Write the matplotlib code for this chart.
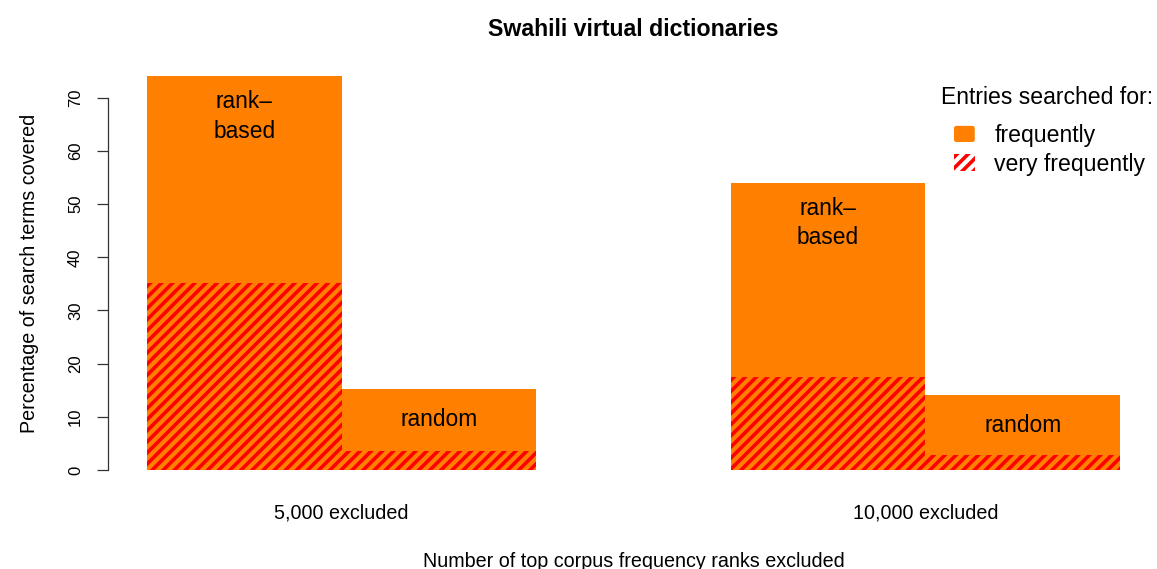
import numpy as np
import matplotlib.pyplot as plt
from matplotlib.patches import Patch, FancyBboxPatch
from matplotlib.legend_handler import HandlerPatch

# 数据
groups = ['5,000 excluded', '10,000 excluded']
methods = ['rank–\nbased', 'random']
frequent = [[74.1, 15.2], [54.0, 14.1]]        # 经常查询的词条
very_frequent = [[35.1, 3.6], [17.5, 2.8]]     # 非常经常查询的词条
yticks = [0, 10, 20, 30, 40, 50, 60, 70]

W, H, DPI = 1157, 569, 200
plt.rcParams['font.family'] = ['Liberation Sans', 'DejaVu Sans']
plt.rcParams['hatch.linewidth'] = 1.3

orange = '#FF7F00'
red = '#FF0000'
hatch = '//////'

fig = plt.figure(figsize=(W / DPI, H / DPI), dpi=DPI)
# 绘图区域 (像素 -> 比例)
left, right, top, bottom = 108.1, 1158.9, 60.1, 485.8
ax = fig.add_axes([left / W, 1 - bottom / H, (right - left) / W, (bottom - top) / H])

freq = np.array(frequent)
vfreq = np.array(very_frequent)
n_groups, n_bars = freq.shape

# 每组条形的左边缘, 组间留一个条宽
lefts = np.array([[1 + g * (n_bars + 1) + b for b in range(n_bars)] for g in range(n_groups)])

ax.bar(lefts.ravel(), freq.ravel(), width=1, align='edge', color=orange, linewidth=0)
ax.bar(lefts.ravel(), vfreq.ravel(), width=1, align='edge', facecolor='none',
       edgecolor=red, hatch=hatch, linewidth=0)

# 条形内标签
for g in range(n_groups):
    for b in range(n_bars):
        off = -14.6 if '\n' in methods[b] else -10.8
        ax.annotate(methods[b], (lefts[g, b] + 0.5, freq[g, b]), xytext=(0, off),
                    textcoords='offset points', ha='center', va='center',
                    fontsize=8.2, linespacing=1.35)

# 坐标范围 (R 风格 4% 扩展)
xmin, xmax = lefts.min(), lefts.max() + 1
ymax = freq.max()
ax.set_xlim(xmin - 0.04 * (xmax - xmin), xmax + 0.04 * (xmax - xmin))
ax.set_ylim(-0.04 * ymax, ymax * 1.04)

for s in ['top', 'right', 'bottom']:
    ax.spines[s].set_visible(False)
ax.spines['left'].set_bounds(0, 70)
ax.spines['left'].set_linewidth(0.45)
ax.spines['left'].set_color('#333333')
ax.set_yticks(yticks)
ax.set_yticklabels([str(t) for t in yticks], rotation=90, va='center', fontsize=6.0)
ax.tick_params(axis='y', length=4.0, width=0.45, color='#333333', pad=5.0)

centers = lefts.mean(axis=1) + 0.5
ax.set_xticks(centers)
ax.set_xticklabels(groups, fontsize=7.1)
ax.tick_params(axis='x', length=0, pad=6.5)

ax.set_xlabel('Number of top corpus frequency ranks excluded', fontsize=7.1, labelpad=10.5)
ax.set_ylabel('Percentage of search terms covered', fontsize=7.1, labelpad=10.5)
ax.set_title('Swahili virtual dictionaries', fontsize=8.35, fontweight='bold', pad=8.6)


# 图例: 圆角方块
def rounded_box(legend, orig_handle, xdescent, ydescent, width, height, fontsize):
    return FancyBboxPatch((-xdescent, -ydescent), width, height,
                          boxstyle='round,pad=0,rounding_size=%f' % (height * 0.15),
                          mutation_aspect=1)


fig.text(1047 / W, 1 - 97 / H, 'Entries searched for:', fontsize=8.3, ha='center', va='center')
handles = [Patch(facecolor=orange, edgecolor='none', label='frequently'),
           Patch(facecolor='none', edgecolor=red, hatch=hatch, linewidth=0, label='very frequently')]
leg = ax.legend(handles=handles, loc='upper left',
                bbox_to_anchor=(954 / W, 1 - 124 / H), bbox_transform=fig.transFigure,
                frameon=False, fontsize=8.3, borderpad=0, borderaxespad=0,
                handlelength=0.9, handleheight=0.7, handletextpad=0.85, labelspacing=0.24,
                handler_map={handles[0]: HandlerPatch(patch_func=rounded_box)})

fig.savefig('out.png', dpi=DPI)
